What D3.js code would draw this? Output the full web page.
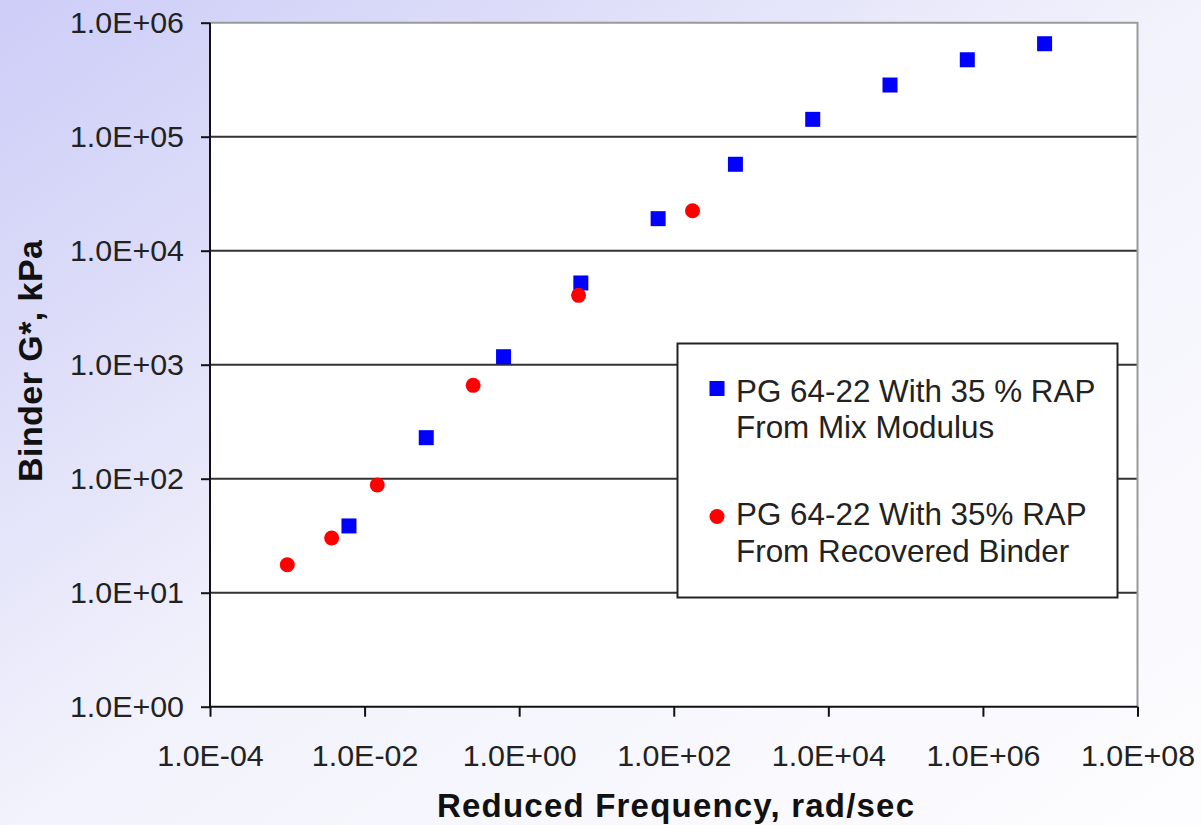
<!DOCTYPE html>
<html>
<head>
<meta charset="utf-8">
<script src="https://cdn.jsdelivr.net/npm/d3@7/dist/d3.min.js"></script>
<style>
  html, body { margin: 0; padding: 0; background: #fff; }
  svg { display: block; }
  text { font-family: "Liberation Sans", Arial, sans-serif; }
</style>
</head>
<body>
<svg id="chart" width="1201" height="825"></svg>
<script>
// ---- Data ----
const mixFreq = [6.28e-3, 6.28e-2, 0.628, 6.28, 62.8, 628, 6280, 62800, 628000, 6.28e6];
const mixGstar = [38.5, 229, 1175, 5210, 19100, 57300, 142000, 284000, 473000, 654000];
const recFreq = [1.0e-3, 3.75e-3, 0.0146, 0.254, 5.86, 175];
const recGstar = [17.6, 30.2, 88.1, 659, 4060, 22400];
const xTicks = [1e-4, 1e-2, 1e0, 1e2, 1e4, 1e6, 1e8];
const yTicks = [1e0, 1e1, 1e2, 1e3, 1e4, 1e5, 1e6];
const seriesNames = [
  ["PG 64-22 With 35 % RAP", "From Mix Modulus"],
  ["PG 64-22 With 35% RAP", "From Recovered Binder"]
];
const xTitle = "Reduced Frequency, rad/sec";
const yTitle = "Binder G*, kPa";

// ---- Layout ----
const W = 1201, H = 825;
const L = 210, R = 1137.5, T = 22.7, B = 706.7;

const svg = d3.select("#chart");

// background gradient
const defs = svg.append("defs");
const grad = defs.append("linearGradient").attr("id", "bg")
  .attr("x1", 0).attr("y1", 0).attr("x2", 1).attr("y2", 1);
grad.append("stop").attr("offset", "0").attr("stop-color", "#cdcdf8");
grad.append("stop").attr("offset", "0.22").attr("stop-color", "#dcdcf9");
grad.append("stop").attr("offset", "0.5").attr("stop-color", "#f2f2fc");
grad.append("stop").attr("offset", "1").attr("stop-color", "#fdfdff");
svg.append("rect").attr("width", W).attr("height", H).attr("fill", "url(#bg)");

const x = d3.scaleLog().domain([1e-4, 1e8]).range([L, R]);
const y = d3.scaleLog().domain([1, 1e6]).range([B, T]);

// plot area
svg.append("rect").attr("x", L).attr("y", T).attr("width", R - L).attr("height", B - T)
  .attr("fill", "#ffffff");

// gridlines
svg.append("g").selectAll("line").data(yTicks.filter(v => v > 1 && v < 1e6)).join("line")
  .attr("x1", L).attr("x2", R).attr("y1", d => y(d)).attr("y2", d => y(d))
  .attr("stroke", "#333").attr("stroke-width", 2);

// top & right border (gray)
svg.append("path")
  .attr("d", `M${L},${y(1e6)}H${x(1e8)}V${B}`)
  .attr("fill", "none").attr("stroke", "#9a9a9a").attr("stroke-width", 2);

const fmt = v => {
  const e = Math.round(Math.log10(v));
  const s = e < 0 ? "-" : "+";
  return "1.0E" + s + String(Math.abs(e)).padStart(2, "0");
};

// axes
const xAxis = d3.axisBottom(x).tickValues(xTicks).tickFormat(fmt).tickSize(10).tickPadding(28).tickSizeOuter(0);
const gx = svg.append("g").attr("transform", `translate(0,${B})`).call(xAxis);
gx.select(".domain").remove();
gx.selectAll(".tick line").attr("stroke", "#111").attr("stroke-width", 2);
gx.selectAll(".tick text").attr("font-size", 30.4).attr("fill", "#222")
  .attr("font-family", "Liberation Sans, Arial, sans-serif");

const yAxis = d3.axisLeft(y).tickValues(yTicks).tickFormat(fmt).tickSize(9).tickPadding(17).tickSizeOuter(0);
const gy = svg.append("g").attr("transform", `translate(${L},0)`).call(yAxis);
gy.select(".domain").remove();
gy.selectAll(".tick line").attr("stroke", "#111").attr("stroke-width", 2);
gy.selectAll(".tick text").attr("font-size", 30.4).attr("fill", "#222")
  .attr("font-family", "Liberation Sans, Arial, sans-serif");

// axis lines (black)
svg.append("line").attr("x1", L).attr("x2", L).attr("y1", T).attr("y2", B + 1)
  .attr("stroke", "#111").attr("stroke-width", 2);
svg.append("line").attr("x1", L - 1).attr("x2", R).attr("y1", B).attr("y2", B)
  .attr("stroke", "#111").attr("stroke-width", 2);

// markers
const sq = 15, rad = 7.5;
const mix = mixFreq.map((f, i) => ({ f, g: mixGstar[i] }));
const rec = recFreq.map((f, i) => ({ f, g: recGstar[i] }));

svg.append("g").selectAll("rect").data(mix).join("rect")
  .attr("x", d => x(d.f) - sq / 2).attr("y", d => y(d.g) - sq / 2)
  .attr("width", sq).attr("height", sq).attr("fill", "#0000ff");

svg.append("g").selectAll("circle").data(rec).join("circle")
  .attr("cx", d => x(d.f)).attr("cy", d => y(d.g)).attr("r", rad).attr("fill", "#ff0000");

// legend
const lg = svg.append("g");
lg.append("rect").attr("x", 677.5).attr("y", 343.5).attr("width", 440).attr("height", 254)
  .attr("fill", "#fff").attr("stroke", "#222").attr("stroke-width", 2);
lg.append("rect").attr("x", 717 - sq / 2).attr("y", 388.5 - sq / 2).attr("width", sq).attr("height", sq)
  .attr("fill", "#0000ff");
lg.append("circle").attr("cx", 717).attr("cy", 516.5).attr("r", rad).attr("fill", "#ff0000");
const lineY = [[401.7, 438], [525, 561.7]];
seriesNames.forEach((lines, si) => {
  lines.forEach((t, li) => {
    lg.append("text").attr("x", 736).attr("y", lineY[si][li])
      .attr("font-size", 31.4).attr("fill", "#222").text(t);
  });
});

// titles
svg.append("text").attr("x", 675.5).attr("y", 816.5).attr("text-anchor", "middle")
  .attr("font-size", 33).attr("font-weight", "bold").attr("fill", "#111")
  .attr("textLength", 477).attr("lengthAdjust", "spacing").text(xTitle);
svg.append("text").attr("transform", "translate(42,361) rotate(-90)").attr("text-anchor", "middle")
  .attr("font-size", 34).attr("font-weight", "bold").attr("fill", "#111")
  .attr("textLength", 242).attr("lengthAdjust", "spacing").text(yTitle);
</script>
</body>
</html>
